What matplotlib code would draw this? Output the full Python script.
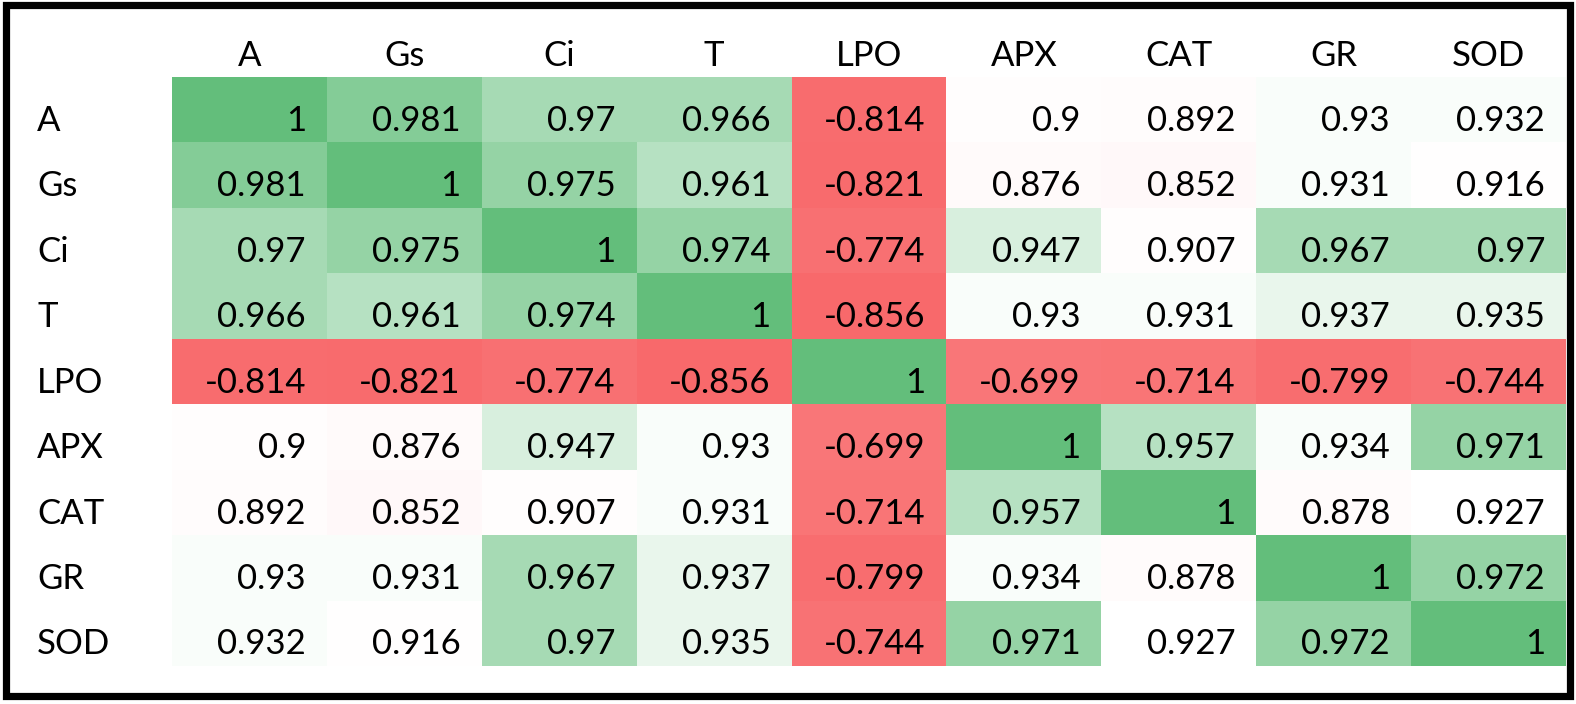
import numpy as np
import matplotlib
matplotlib.use("Agg")
import matplotlib.pyplot as plt
from matplotlib.colors import LinearSegmentedColormap, to_rgb
from matplotlib.patches import Rectangle

# variable names, used for both the header row and the row labels
labels = ["A", "Gs", "Ci", "T", "LPO", "APX", "CAT", "GR", "SOD"]

# correlation values, one list per row
row_A = [1, 0.981, 0.97, 0.966, -0.814, 0.9, 0.892, 0.93, 0.932]
row_Gs = [0.981, 1, 0.975, 0.961, -0.821, 0.876, 0.852, 0.931, 0.916]
row_Ci = [0.97, 0.975, 1, 0.974, -0.774, 0.947, 0.907, 0.967, 0.97]
row_T = [0.966, 0.961, 0.974, 1, -0.856, 0.93, 0.931, 0.937, 0.935]
row_LPO = [-0.814, -0.821, -0.774, -0.856, 1, -0.699, -0.714, -0.799, -0.744]
row_APX = [0.9, 0.876, 0.947, 0.93, -0.699, 1, 0.957, 0.934, 0.971]
row_CAT = [0.892, 0.852, 0.907, 0.931, -0.714, 0.957, 1, 0.878, 0.927]
row_GR = [0.93, 0.931, 0.967, 0.937, -0.799, 0.934, 0.878, 1, 0.972]
row_SOD = [0.932, 0.916, 0.97, 0.935, -0.744, 0.971, 0.927, 0.972, 1]

vals = np.array([row_A, row_Gs, row_Ci, row_T, row_LPO,
                 row_APX, row_CAT, row_GR, row_SOD])

# Excel style 3 colour scale: min red, median white, max green
vmin, vmid, vmax = vals.min(), np.median(vals), vals.max()
red, white, green = to_rgb("#F8696B"), to_rgb("#FFFFFF"), to_rgb("#63BE7B")
pos_mid = (vmid - vmin) / (vmax - vmin)
cmap = LinearSegmentedColormap.from_list(
    "excel3", [(0, red), (pos_mid, white), (1, green)])

plt.rcParams["font.family"] = ["Lato", "DejaVu Sans"]

W, H = 1576, 704
fig = plt.figure(figsize=(W / 100, H / 100), dpi=100)

# grid area in pixels
gx0, gx1, gy0, gy1 = 172, 1566, 77, 666
ax = fig.add_axes([gx0 / W, (H - gy1) / H, (gx1 - gx0) / W, (gy1 - gy0) / H])
n = len(labels)
ax.pcolormesh(np.arange(n + 1), np.arange(n + 1), vals, cmap=cmap,
              vmin=vmin, vmax=vmax, shading="flat")
ax.set_xlim(0, n)
ax.set_ylim(n, 0)
ax.axis("off")

col_w = (gx1 - gx0) / n
row_h = (gy1 - gy0) / n
pad = 21 / col_w          # right padding of numbers
base = 11.5 / row_h       # baseline distance above cell bottom
fs = 25

for i in range(n):
    for j in range(n):
        v = vals[i, j]
        txt = "1" if v == 1 else ("%g" % v)
        ax.text(j + 1 - pad, i + 1 - base, txt, ha="right", va="baseline",
                fontsize=fs, color="black")

# header row and row labels
for k, lab in enumerate(labels):
    ax.text(k + 0.5, -base, lab, ha="center", va="baseline",
            fontsize=fs, clip_on=False)
    ax.text((37 - gx0) / col_w, k + 1 - base, lab, ha="left", va="baseline",
            fontsize=fs, clip_on=False)

# outer frame
fig.patches.append(Rectangle((5.5 / W, 8.5 / H), 1564 / W, 691 / H,
                             transform=fig.transFigure, fill=False,
                             edgecolor="black", linewidth=5.2))

fig.savefig("out.png", dpi=100, facecolor="white")
